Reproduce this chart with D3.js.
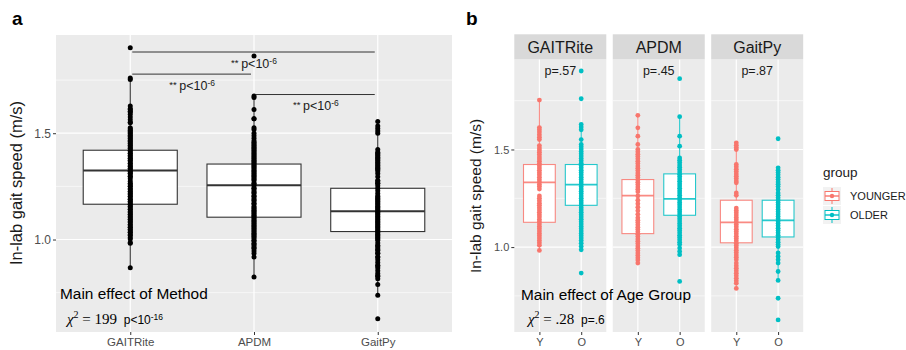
<!DOCTYPE html>
<html>
<head>
<meta charset="utf-8">
<script src="https://cdn.jsdelivr.net/npm/d3@7"></script>
<style>
  body { margin: 0; background: #fff; }
  text { font-family: "Liberation Sans", Arial, sans-serif; white-space: pre; }
</style>
</head>
<body>
<script>
// ---- data ----
const methods = ["GAITRite", "APDM", "GaitPy"];
const groups = ["YOUNGER", "OLDER"];
const groupTicks = ["Y", "O"];
const groupColors = ["#F8766D", "#00BFC4"];

// individual in-lab gait speeds (m/s)
const gaitriteYounger = [1.753, 1.612, 1.601, 1.589, 1.576, 1.563, 1.551, 1.52, 1.508, 1.497, 1.486, 1.474, 1.462, 1.451, 1.44, 1.428, 1.417, 1.405, 1.393, 1.381, 1.37, 1.358, 1.345, 1.333, 1.321, 1.31, 1.297, 1.262, 1.25, 1.238, 1.225, 1.214, 1.202, 1.19, 1.178, 1.166, 1.154, 1.141, 1.13, 1.118, 1.106, 1.094, 1.082, 1.07, 1.058, 1.046, 1.034, 1.022, 1.01, 0.983];
const gaitriteOlder = [1.902, 1.76, 1.628, 1.615, 1.601, 1.551, 1.526, 1.514, 1.502, 1.49, 1.478, 1.466, 1.454, 1.442, 1.43, 1.418, 1.406, 1.394, 1.382, 1.37, 1.358, 1.346, 1.334, 1.322, 1.31, 1.298, 1.286, 1.274, 1.262, 1.25, 1.238, 1.226, 1.214, 1.202, 1.19, 1.178, 1.166, 1.154, 1.142, 1.13, 1.118, 1.106, 1.094, 1.082, 1.07, 1.058, 1.046, 1.034, 1.02, 1.003, 0.986, 0.867];
const apdmYounger = [1.675, 1.611, 1.568, 1.526, 1.5, 1.488, 1.476, 1.464, 1.452, 1.44, 1.428, 1.416, 1.404, 1.392, 1.38, 1.368, 1.356, 1.344, 1.332, 1.32, 1.308, 1.296, 1.284, 1.262, 1.24, 1.222, 1.204, 1.186, 1.168, 1.15, 1.138, 1.126, 1.114, 1.102, 1.09, 1.078, 1.066, 1.054, 1.042, 1.03, 1.018, 1.006, 0.994, 0.982, 0.97, 0.958, 0.946, 0.934, 0.918];
const apdmOlder = [1.863, 1.668, 1.568, 1.517, 1.457, 1.445, 1.433, 1.421, 1.409, 1.397, 1.385, 1.373, 1.361, 1.349, 1.337, 1.325, 1.313, 1.301, 1.289, 1.277, 1.265, 1.253, 1.241, 1.229, 1.217, 1.205, 1.193, 1.181, 1.169, 1.157, 1.145, 1.133, 1.121, 1.109, 1.097, 1.085, 1.073, 1.061, 1.049, 1.037, 1.025, 1.013, 0.995, 0.978, 0.961, 0.824];
const gaitpyYounger = [1.534, 1.522, 1.51, 1.5, 1.423, 1.411, 1.399, 1.387, 1.375, 1.363, 1.351, 1.339, 1.329, 1.277, 1.265, 1.2, 1.188, 1.176, 1.164, 1.152, 1.14, 1.128, 1.116, 1.104, 1.092, 1.08, 1.068, 1.056, 1.044, 1.032, 1.02, 1.008, 0.996, 0.984, 0.972, 0.96, 0.948, 0.935, 0.918, 0.905, 0.892, 0.879, 0.866, 0.853, 0.84, 0.827, 0.815, 0.788];
const gaitpyOlder = [1.555, 1.406, 1.394, 1.382, 1.37, 1.358, 1.346, 1.334, 1.322, 1.31, 1.295, 1.277, 1.265, 1.253, 1.241, 1.229, 1.217, 1.205, 1.193, 1.181, 1.169, 1.157, 1.145, 1.133, 1.121, 1.109, 1.097, 1.085, 1.073, 1.061, 1.049, 1.037, 1.025, 1.013, 1.003, 0.97, 0.952, 0.935, 0.918, 0.875, 0.829, 0.738, 0.627];

// box statistics, panel a (all subjects), per method
const allLo = [0.867, 0.825, 0.739];
const allQ1 = [1.166, 1.105, 1.0375];
const allMed = [1.325, 1.255, 1.133];
const allQ3 = [1.42, 1.355, 1.241];
const allHi = [1.753, 1.668, 1.553];

// box statistics, panel b, per method
const youngLo = [0.983, 0.918, 0.788];
const youngQ1 = [1.127, 1.069, 1.022];
const youngMed = [1.332, 1.264, 1.127];
const youngQ3 = [1.423, 1.346, 1.24];
const youngHi = [1.753, 1.675, 1.534];
const oldLo = [0.983, 0.961, 0.829];
const oldQ1 = [1.214, 1.163, 1.052];
const oldMed = [1.32, 1.247, 1.137];
const oldQ3 = [1.423, 1.375, 1.24];
const oldHi = [1.628, 1.668, 1.406];

// pairwise comparisons in panel a
const sigFrom = ["GAITRite", "GAITRite", "APDM"];
const sigTo = ["GaitPy", "APDM", "GaitPy"];
const sigLevel = [1.882, 1.778, 1.682];
const facetP = ["p=.57", "p=.45", "p=.87"];

const yTicks = [1.0, 1.5];
const yMinor = [0.75, 1.25, 1.75];
const yDomain = [0.565, 1.962];

const speeds = {
  GAITRite: [gaitriteYounger, gaitriteOlder],
  APDM: [apdmYounger, apdmOlder],
  GaitPy: [gaitpyYounger, gaitpyOlder]
};

const svg = d3.select("body").append("svg")
  .attr("width", 906).attr("height", 350);

// draw a ggplot-like grey panel with grid lines
function panelBg(g, x0, x1, y, xs) {
  g.append("rect").attr("x", x0).attr("y", y.range()[1])
    .attr("width", x1 - x0).attr("height", y.range()[0] - y.range()[1])
    .attr("fill", "#EBEBEB");
  g.selectAll(".minor").data(yMinor).enter().append("line")
    .attr("x1", x0).attr("x2", x1)
    .attr("y1", d => y(d)).attr("y2", d => y(d))
    .attr("stroke", "#fff").attr("stroke-width", 0.6);
  g.selectAll(".major").data(yTicks).enter().append("line")
    .attr("x1", x0).attr("x2", x1)
    .attr("y1", d => y(d)).attr("y2", d => y(d))
    .attr("stroke", "#fff").attr("stroke-width", 1.2);
  g.selectAll(".vmajor").data(xs).enter().append("line")
    .attr("x1", d => d).attr("x2", d => d)
    .attr("y1", y.range()[0]).attr("y2", y.range()[1])
    .attr("stroke", "#fff").attr("stroke-width", 1.2);
}

function styleAxis(g, size) {
  g.select(".domain").remove();
  g.selectAll(".tick line").attr("stroke", "#333");
  g.selectAll(".tick text").attr("fill", "#4D4D4D")
    .style("font-size", size + "px").style("font-family", "Liberation Sans, Arial, sans-serif");
}

function drawBox(g, x, w, y, lo, q1, med, q3, hi, color, medWidth) {
  g.append("line").attr("x1", x).attr("x2", x)
    .attr("y1", y(hi)).attr("y2", y(lo))
    .attr("stroke", color).attr("stroke-width", 1.1);
  g.append("rect").attr("x", x - w / 2).attr("y", y(q3))
    .attr("width", w).attr("height", y(q1) - y(q3))
    .attr("fill", "#fff").attr("stroke", color).attr("stroke-width", 1.1);
  g.append("line").attr("x1", x - w / 2).attr("x2", x + w / 2)
    .attr("y1", y(med)).attr("y2", y(med))
    .attr("stroke", color).attr("stroke-width", medWidth);
}

// ================= panel a =================
const ax = d3.scalePoint().domain(methods).range([56, 452]).padding(0.6);
const ay = d3.scaleLinear().domain(yDomain).range([332, 35]);
const pa = svg.append("g");
panelBg(pa, 56, 452, ay, methods.map(m => ax(m)));

const boxW = ax.step() * 0.76;
methods.forEach((m, i) => {
  drawBox(pa, ax(m), boxW, ay, allLo[i], allQ1[i], allMed[i], allQ3[i], allHi[i], "#333", 2);
  const all = speeds[m][0].concat(speeds[m][1]);
  pa.selectAll(".pt" + i).data(all).enter().append("circle")
    .attr("cx", ax(m)).attr("cy", d => ay(d)).attr("r", 2.5)
    .attr("fill", "#000");
});

// significance brackets
sigFrom.forEach((m, i) => {
  const x1 = ax(m) + 2, x2 = ax(sigTo[i]) - 3;
  pa.append("line").attr("x1", x1).attr("x2", x2)
    .attr("y1", ay(sigLevel[i])).attr("y2", ay(sigLevel[i]))
    .attr("stroke", "#333").attr("stroke-width", 1);
  const t = pa.append("text").attr("x", (ax(m) + ax(sigTo[i])) / 2)
    .attr("y", ay(sigLevel[i]) + 15.5).attr("text-anchor", "middle")
    .style("font-size", "12.5px").attr("fill", "#1a1a1a");
  t.append("tspan").text("** ").style("font-size", "9.5px").attr("dy", -2);
  t.append("tspan").text("p<10").attr("dy", 2);
  t.append("tspan").text("-6").style("font-size", "8.5px").attr("dy", -4);
});

pa.append("g").attr("transform", "translate(56,0)")
  .call(d3.axisLeft(ay).tickValues(yTicks).tickFormat(d3.format(".1f")).tickSize(3).tickPadding(2))
  .call(g => styleAxis(g, 12));
pa.append("g").attr("transform", "translate(0,332)")
  .call(d3.axisBottom(ax).tickSize(3).tickPadding(3))
  .call(g => styleAxis(g, 11.5));

pa.append("text").attr("transform", "translate(22,183) rotate(-90)")
  .attr("text-anchor", "middle").style("font-size", "16.5px").attr("fill", "#1a1a1a")
  .text("In-lab gait speed (m/s)");

pa.append("text").attr("x", 60).attr("y", 299).style("font-size", "15.4px")
  .text("Main effect of Method");
const chiA = pa.append("text").attr("x", 67).attr("y", 324);
chiA.append("tspan").text("\u03C7").style("font-family", "Liberation Serif, serif").style("font-style", "italic").style("font-size", "15px");
chiA.append("tspan").text("2").style("font-family", "Liberation Serif, serif").style("font-size", "10px").attr("dy", -6);
chiA.append("tspan").text(" = 199").style("font-family", "Liberation Serif, serif").style("font-size", "15px").attr("dy", 6);
chiA.append("tspan").text("  p<10").style("font-size", "12px");
chiA.append("tspan").text("-16").style("font-size", "8.5px").attr("dy", -4);

svg.append("text").attr("x", 12).attr("y", 25).style("font-size", "19px")
  .style("font-weight", "bold").text("a");

// ================= panel b =================
const fx = d3.scaleBand().domain(methods).range([514.3, 803.2]).paddingInner(0.0655);
const by = d3.scaleLinear().domain(yDomain).range([332, 59.3]);
const gx = d3.scalePoint().domain(groupTicks).range([0, fx.bandwidth()]).padding(0.6);
const gBoxW = gx.step() * 0.76;
const lows = [youngLo, oldLo], q1s = [youngQ1, oldQ1], meds = [youngMed, oldMed],
  q3s = [youngQ3, oldQ3], his = [youngHi, oldHi];

methods.forEach((m, i) => {
  const x0 = fx(m), x1 = x0 + fx.bandwidth();
  const f = svg.append("g");
  panelBg(f, x0, x1, by, groupTicks.map(t => x0 + gx(t)));

  f.append("rect").attr("x", x0).attr("y", 34.3).attr("width", fx.bandwidth())
    .attr("height", 25).attr("fill", "#D9D9D9");
  f.append("text").attr("x", x0 + fx.bandwidth() / 2).attr("y", 53)
    .attr("text-anchor", "middle").style("font-size", "16px").attr("fill", "#1a1a1a")
    .text(m);

  groupTicks.forEach((t, j) => {
    const cx = x0 + gx(t);
    const bg = f.append("g").attr("stroke-opacity", 0.85);
    drawBox(bg, cx, gBoxW, by, lows[j][i], q1s[j][i], meds[j][i], q3s[j][i], his[j][i], groupColors[j], 1.8);
    f.selectAll(".pt" + j).data(speeds[m][j]).enter().append("circle")
      .attr("cx", cx).attr("cy", d => by(d)).attr("r", 2.4)
      .attr("fill", groupColors[j]);
  });

  f.append("text").attr("x", x0 + fx.bandwidth() / 2).attr("y", by(1.88))
    .attr("text-anchor", "middle").style("font-size", "12.5px").attr("fill", "#1a1a1a")
    .text(facetP[i]);

  const xa = d3.scalePoint().domain(groupTicks).range([x0, x1]).padding(0.6);
  f.append("g").attr("transform", "translate(0,332)")
    .call(d3.axisBottom(xa).tickSize(3).tickPadding(3))
    .call(g => styleAxis(g, 11));
});

svg.append("g").attr("transform", "translate(514.3,0)")
  .call(d3.axisLeft(by).tickValues(yTicks).tickFormat(d3.format(".1f")).tickSize(3).tickPadding(2))
  .call(g => styleAxis(g, 11));

svg.append("text").attr("transform", "translate(481,196) rotate(-90)")
  .attr("text-anchor", "middle").style("font-size", "15.5px").attr("fill", "#1a1a1a")
  .text("In-lab gait speed (m/s)");

svg.append("text").attr("x", 521).attr("y", 300).style("font-size", "15.4px")
  .text("Main effect of Age Group");
const chiB = svg.append("text").attr("x", 528).attr("y", 324);
chiB.append("tspan").text("\u03C7").style("font-family", "Liberation Serif, serif").style("font-style", "italic").style("font-size", "15px");
chiB.append("tspan").text("2").style("font-family", "Liberation Serif, serif").style("font-size", "10px").attr("dy", -6);
chiB.append("tspan").text(" = .28").style("font-family", "Liberation Serif, serif").style("font-size", "15px").attr("dy", 6);
chiB.append("tspan").text("  p=.6").style("font-size", "12px");

svg.append("text").attr("x", 466).attr("y", 25).style("font-size", "19px")
  .style("font-weight", "bold").text("b");

// legend
const lg = svg.append("g").attr("transform", "translate(823,0)");
lg.append("text").attr("x", 0).attr("y", 177).style("font-size", "13.5px")
  .attr("fill", "#1a1a1a").text("group");
groups.forEach((gName, j) => {
  const ky = 187 + j * 19;
  const k = lg.append("g").attr("transform", "translate(0," + ky + ")");
  k.append("rect").attr("width", 18).attr("height", 18).attr("fill", "#F2F2F2");
  k.append("line").attr("x1", 9).attr("x2", 9).attr("y1", 1).attr("y2", 17)
    .attr("stroke", groupColors[j]).attr("stroke-width", 1);
  k.append("rect").attr("x", 2).attr("y", 4.5).attr("width", 14).attr("height", 9)
    .attr("fill", "#fff").attr("stroke", groupColors[j]).attr("stroke-width", 1);
  k.append("line").attr("x1", 2).attr("x2", 16).attr("y1", 9).attr("y2", 9)
    .attr("stroke", groupColors[j]).attr("stroke-width", 1.4);
  k.append("circle").attr("cx", 9).attr("cy", 9).attr("r", 2.2).attr("fill", groupColors[j]);
  lg.append("text").attr("x", 27).attr("y", ky + 13).style("font-size", "11px")
    .attr("fill", "#1a1a1a").text(gName);
});
</script>
</body>
</html>
